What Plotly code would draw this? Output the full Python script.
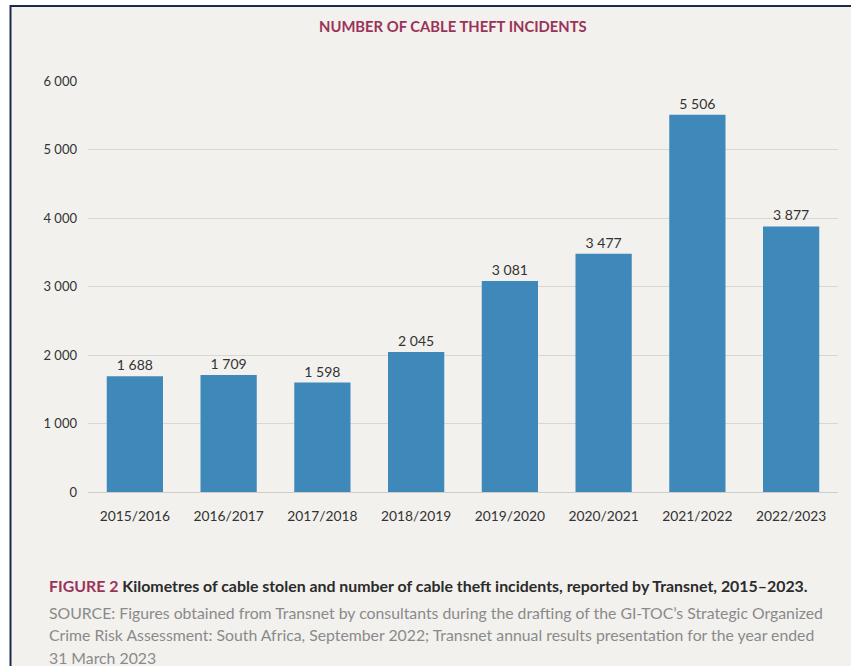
import plotly.graph_objects as go

# Transnet cable theft incidents per financial year
years = ["2015/2016", "2016/2017", "2017/2018", "2018/2019",
         "2019/2020", "2020/2021", "2021/2022", "2022/2023"]
incidents = [1688, 1709, 1598, 2045, 3081, 3477, 5506, 3877]
y_ticks = [0, 1000, 2000, 3000, 4000, 5000, 6000]

W, H = 851, 666
L, R, T, B = 88, 13, 81, 174
PW, PH = W - L - R, H - T - B


def px_x(px):
    return (px - L) / PW


def px_y(py):
    return (H - B - py) / PH


BG = "#f2f1ee"
NAVY = "#1c2a4a"
MAROON = "#9b3359"
BAR = "#3f88ba"
FONT = "Lato, 'Open Sans', sans-serif"

fig = go.Figure(
    go.Bar(
        x=years,
        y=incidents,
        marker=dict(color=BAR, line=dict(width=0)),
        texttemplate="%{y:,}",
        textposition="outside",
        textfont=dict(family=FONT, size=14, color="#333333"),
        cliponaxis=False,
        hoverinfo="x+y",
    )
)

shapes = [
    # white surround outside the framed panel
    dict(type="rect", xref="paper", yref="paper", layer="below",
         x0=px_x(0), x1=px_x(W), y0=px_y(0), y1=px_y(H),
         fillcolor="white", line=dict(width=0)),
    dict(type="rect", xref="paper", yref="paper", layer="below",
         x0=px_x(11), x1=px_x(W), y0=px_y(6), y1=px_y(H),
         fillcolor=BG, line=dict(width=0)),
    # navy frame lines on left and top
    dict(type="line", xref="paper", yref="paper", layer="above",
         x0=px_x(10.5), x1=px_x(10.5), y0=px_y(5), y1=px_y(H),
         line=dict(color=NAVY, width=2)),
    dict(type="line", xref="paper", yref="paper", layer="above",
         x0=px_x(10), x1=px_x(W), y0=px_y(6), y1=px_y(6),
         line=dict(color=NAVY, width=2)),
]

annotations = [
    dict(text="<b>NUMBER OF CABLE THEFT INCIDENTS</b>",
         xref="paper", yref="paper", x=px_x(453), y=px_y(26),
         xanchor="center", yanchor="middle", showarrow=False,
         font=dict(family=FONT, size=14.8, color=MAROON)),
    dict(text=f"<b><span style='color:{MAROON}'>FIGURE 2</span> Kilometres of cable stolen and "
              "number of cable theft incidents, reported by Transnet, 2015–2023.</b>",
         xref="paper", yref="paper", x=px_x(47), y=px_y(585),
         xanchor="left", yanchor="middle", showarrow=False,
         font=dict(family=FONT, size=15.9, color="#2b2b2b")),
]

source_lines = [
    "SOURCE: Figures obtained from Transnet by consultants during the drafting of the GI-TOC’s Strategic Organized",
    "Crime Risk Assessment: South Africa, September 2022; Transnet annual results presentation for the year ended",
    "31 March 2023",
]
for i, line in enumerate(source_lines):
    annotations.append(
        dict(text=line, xref="paper", yref="paper", x=px_x(47), y=px_y(612 + 22.5 * i),
             xanchor="left", yanchor="middle", showarrow=False,
             font=dict(family=FONT, size=15.8, color="#8a8a8a"))
    )

fig.update_layout(
    width=W, height=H,
    margin=dict(l=L, r=R, t=T, b=B, pad=0),
    paper_bgcolor=BG,
    plot_bgcolor="rgba(0,0,0,0)",
    separators=". ",
    bargap=0.40,
    showlegend=False,
    font=dict(family=FONT, color="#333333"),
    shapes=shapes,
    annotations=annotations,
    xaxis=dict(
        showgrid=False, showline=False, ticks="",
        tickfont=dict(family=FONT, size=13.8, color="#333333"),
        ticklabelstandoff=14,
    ),
    yaxis=dict(
        range=[0, 6000], tickvals=y_ticks, tickformat=",",
        showgrid=True, gridcolor="#d8d7d3", gridwidth=1,
        zeroline=True, zerolinecolor="#cfcecb", zerolinewidth=1,
        showline=False, ticks="",
        ticklabelstandoff=10,
        tickfont=dict(family=FONT, size=13, color="#333333"),
    ),
)

fig.write_html("out.html")
